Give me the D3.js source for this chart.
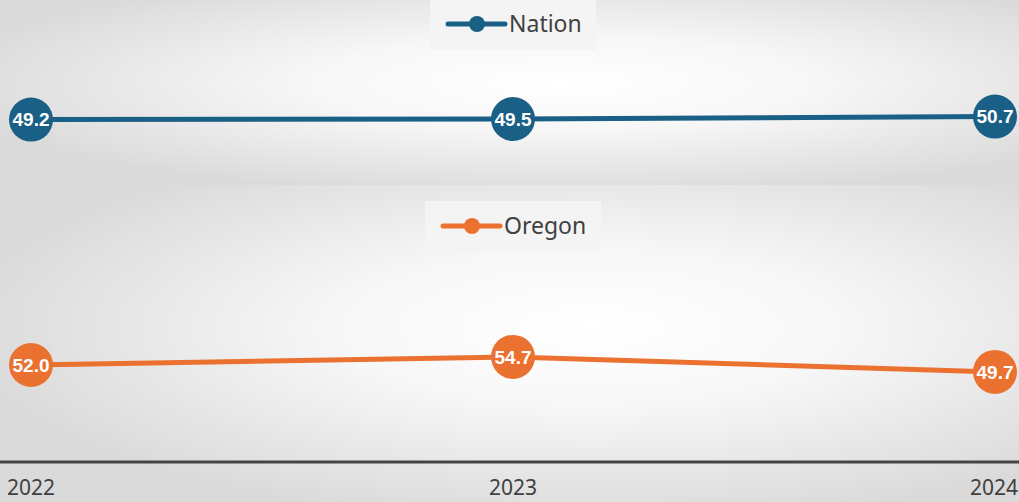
<!DOCTYPE html>
<html>
<head>
<meta charset="utf-8">
<script src="https://cdn.jsdelivr.net/npm/d3@7"></script>
<style>
  html, body { margin: 0; padding: 0; background: #fff; }
  svg { display: block; }
</style>
</head>
<body>
<script>
// chart data
var years = ["2022", "2023", "2024"];
var nationValues = [49.2, 49.5, 50.7];
var oregonValues = [52.0, 54.7, 49.7];
var seriesNames = ["Nation", "Oregon"];
var seriesColors = ["#1a5f86", "#ea7130"];

var width = 1019, height = 502;

var svg = d3.select("body").append("svg")
    .attr("width", width)
    .attr("height", height);

var defs = svg.append("defs");

// radial gradient backgrounds for each panel
function addGradient(id, cx, cy) {
    var g = defs.append("radialGradient")
        .attr("id", id)
        .attr("cx", cx).attr("cy", cy)
        .attr("r", "62%");
    g.append("stop").attr("offset", "0%").attr("stop-color", "#ffffff");
    g.append("stop").attr("offset", "40%").attr("stop-color", "#f7f7f7");
    g.append("stop").attr("offset", "100%").attr("stop-color", "#dadada");
}
addGradient("bgTop", "55%", "45%");
addGradient("bgBottom", "58%", "45%");

var panels = [
    {name: seriesNames[0], values: nationValues, color: seriesColors[0],
     top: 0, bottom: 185, bg: "bgTop",
     yRange: [138, 98], legend: {x: 430, y: 0, w: 166, h: 50, cy: 24}},
    {name: seriesNames[1], values: oregonValues, color: seriesColors[1],
     top: 185, bottom: 502, bg: "bgBottom",
     yRange: [401, 341], legend: {x: 425, y: 201, w: 176, h: 51, cy: 226}}
];

var x = d3.scalePoint()
    .domain(years)
    .range([31, 995]);

panels.forEach(function(p) {
    svg.append("rect")
        .attr("x", 0).attr("y", p.top)
        .attr("width", width).attr("height", p.bottom - p.top)
        .attr("fill", "url(#" + p.bg + ")");
});

panels.forEach(function(p) {
    var y = d3.scaleLinear().domain([40, 60]).range(p.yRange);
    var data = years.map(function(yr, i) { return {year: yr, value: p.values[i]}; });

    // legend box
    var lg = svg.append("g");
    lg.append("rect")
        .attr("x", p.legend.x).attr("y", p.legend.y)
        .attr("width", p.legend.w).attr("height", p.legend.h)
        .attr("fill", "#f4f4f4");
    var lx = p.legend.x + 18;
    lg.append("line")
        .attr("x1", lx).attr("x2", lx + 57)
        .attr("y1", p.legend.cy).attr("y2", p.legend.cy)
        .attr("stroke", p.color).attr("stroke-width", 5)
        .attr("stroke-linecap", "round");
    lg.append("circle")
        .attr("cx", lx + 29).attr("cy", p.legend.cy).attr("r", 8)
        .attr("fill", p.color);
    lg.append("text")
        .attr("x", lx + 61).attr("y", p.legend.cy + 8)
        .attr("font-family", "Noto Sans, sans-serif")
        .attr("font-size", 23)
        .attr("fill", "#404040")
        .text(p.name);

    // line
    svg.append("path")
        .datum(data)
        .attr("fill", "none")
        .attr("stroke", p.color)
        .attr("stroke-width", 5)
        .attr("d", d3.line()
            .x(function(d) { return x(d.year); })
            .y(function(d) { return y(d.value); }));

    // markers
    var m = svg.append("g").selectAll("g")
        .data(data)
        .join("g")
        .attr("transform", function(d) { return "translate(" + x(d.year) + "," + y(d.value) + ")"; });
    m.append("circle")
        .attr("r", 22)
        .attr("fill", p.color);
    m.append("text")
        .attr("text-anchor", "middle")
        .attr("dy", "0.36em")
        .attr("font-family", "Liberation Sans, Arial, sans-serif")
        .attr("font-weight", "bold")
        .attr("font-size", 19)
        .attr("fill", "#ffffff")
        .text(function(d) { return d.value.toFixed(1); });
});

// bottom axis
var axis = svg.append("g")
    .attr("transform", "translate(0,462)");
axis.append("line")
    .attr("x1", 0).attr("x2", width)
    .attr("stroke", "#444444").attr("stroke-width", 3);
axis.selectAll("text")
    .data(years)
    .join("text")
    .attr("x", function(d, i) { return i === years.length - 1 ? width - 1 : x(d); })
    .attr("y", 33)
    .attr("text-anchor", function(d, i) { return i === years.length - 1 ? "end" : "middle"; })
    .attr("font-family", "Noto Sans, sans-serif")
    .attr("font-size", 21)
    .attr("fill", "#404040")
    .text(function(d) { return d; });
</script>
</body>
</html>
